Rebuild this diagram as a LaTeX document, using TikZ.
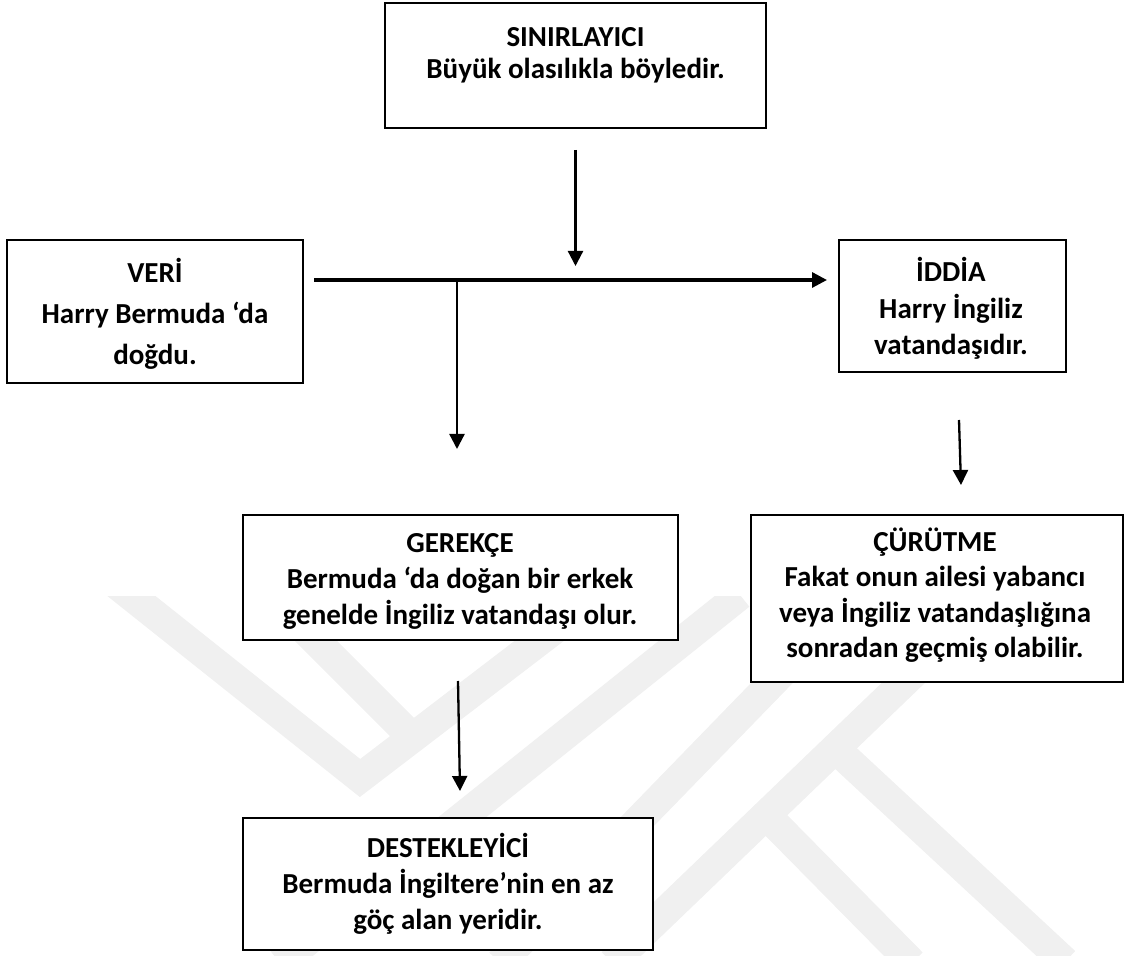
\documentclass[tikz,border=0pt]{standalone}
\usepackage{fontspec}
\setmainfont{Carlito}
\usetikzlibrary{arrows.meta,calc}

\begin{document}
\begin{tikzpicture}[x=0.5pt,y=-0.5pt,
  box/.style={draw=black, line width=1pt, fill=white, inner sep=0pt},
  lbl/.style={align=center, inner sep=0pt},
  arr/.style={line width=1.15pt, -{Triangle[length=7.5pt,width=7.5pt]}},
  wm/.style={line width=15pt, draw=black!6, line join=miter}]
\useasboundingbox (0,0) rectangle (1125,956);

% faint background emblem
\begin{scope}
  \clip (0,597) rectangle (1125,956);
  \draw[wm] (105,575) -- (360,778) -- (560,625);
  \draw[wm] (270,595) -- (415,740);
  \draw[wm] (740,595) -- (280,963);
  \draw[wm] (870,582) -- (500,963);
  \draw[wm] (1000,590) -- (612,963);
  \draw[wm] (840,753) -- (1065,962);
  \draw[wm] (772,821) -- (912,963);
\end{scope}

% boxes
\node[box, minimum width=190.5pt, minimum height=62.5pt] (sin) at (575.5,65.5) {};
\node[box, minimum width=148pt, minimum height=71.5pt] (veri) at (155,311.5) {};
\node[box, minimum width=113.5pt, minimum height=66pt] (iddia) at (952.5,306) {};
\node[box, minimum width=217.5pt, minimum height=62.5pt] (gerekce) at (460.5,577.5) {};
\node[box, minimum width=186pt, minimum height=83.5pt] (curutme) at (937,598.5) {};
\node[box, minimum width=205pt, minimum height=66pt] (destek) at (448,884) {};

% texts
\node[lbl, font=\fontsize{14.5}{16}\selectfont\bfseries] (sint) at (575.5,55)
  {SINIRLAYICI\\Büyük olasılıkla böyledir.};
\node[lbl, font=\fontsize{14.5}{20.5}\selectfont\bfseries] (verit) at (155,314)
  {VERİ\\Harry Bermuda ‘da\\doğdu.};
\node[lbl, font=\fontsize{14.5}{18.25}\selectfont\bfseries] (iddiat) at (951,308.5)
  {İDDİA\\Harry İngiliz\\vatandaşıdır.};
\node[lbl, font=\fontsize{14.5}{18}\selectfont\bfseries] (gerekcet) at (460,581)
  {GEREKÇE\\Bermuda ‘da doğan bir erkek\\genelde İngiliz vatandaşı olur.};
\node[lbl, font=\fontsize{14.5}{17.7}\selectfont\bfseries] (curutmet) at (935,595)
  {ÇÜRÜTME\\Fakat onun ailesi yabancı\\veya İngiliz vatandaşlığına\\sonradan geçmiş olabilir.};
\node[lbl, font=\fontsize{14.5}{18}\selectfont\bfseries] (destekt) at (448,884)
  {DESTEKLEYİCİ\\Bermuda İngiltere’nin en az\\göç alan yeridir.};

% connector end points
\coordinate (sinout) at ($(sin.south)+(0,21)$);
\coordinate (sinin) at ($(sin.south)+(0,137)$);
\coordinate (hstart) at ($(veri.east)+(10,-31.5)$);
\coordinate (hend) at ($(iddia.west)+(-11,-26)$);
\coordinate (jn) at ($(gerekce.north)+(-3.5,-235)$);
\coordinate (gin) at ($(gerekce.north)+(-3.5,-65)$);
\coordinate (iout) at ($(iddia.south)+(6.5,47)$);
\coordinate (cin) at ($(curutme.north)+(24,-29)$);
\coordinate (gout) at ($(gerekce.south)+(-2.5,40)$);
\coordinate (din) at ($(destek.north)+(12,-26)$);

% connectors
\draw[arr] (sinout) -- (sinin);
\draw[arr, line width=1.6pt] (hstart) -- (hend);
\draw[arr] (jn) -- (gin);
\draw[arr] (iout) -- (cin);
\draw[arr] (gout) -- (din);
\end{tikzpicture}
\end{document}
